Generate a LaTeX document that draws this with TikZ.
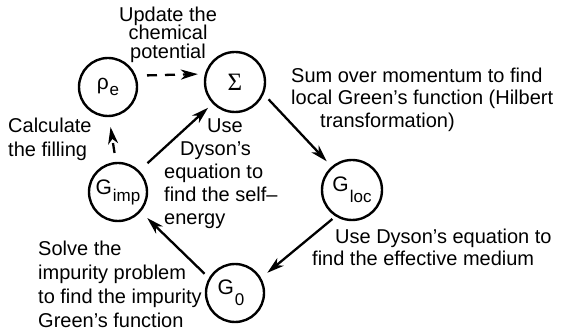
\documentclass[tikz,border=0pt]{standalone}
\usepackage{fontspec}
\setmainfont{Liberation Sans}
\newfontfamily\serifgreek{Liberation Serif}
\usetikzlibrary{arrows.meta}
\newcommand\txtfont[1]{\fontsize{20}{#1}\selectfont\lineskiplimit=-100pt\relax}
\newcommand\lowsub[2]{\kern1pt\raisebox{-#1}{\fontsize{17}{17}\selectfont #2}}
\tikzset{
  stnode/.style={circle, draw, line width=2.4pt, minimum size=58pt, inner sep=0pt, font=\fontsize{21}{21}\selectfont},
  flow/.style={line width=2.3pt, -{Stealth[length=17pt,width=10pt,inset=5pt]}},
  dflow/.style={flow, dash pattern=on 10pt off 8pt},
  lbl/.style={inner sep=0pt}
}
\begin{document}
\begin{tikzpicture}[x=1pt,y=-1pt]
\useasboundingbox (0,0) rectangle (562,336);
% states
\node[stnode] (rho) at (108,87) {ρ\lowsub{6pt}{e}};
\node[stnode, minimum size=60pt] (sigma) at (235,82) {\serifgreek\fontsize{25}{25}\selectfont Σ};
\node[stnode] (gimp) at (118,192) {G\lowsub{7pt}{imp}};
\node[stnode, minimum size=60pt] (gloc) at (352,190) {G\lowsub{11pt}{loc}};
\node[stnode] (gzero) at (235,293) {G\lowsub{11pt}{0}\kern8pt};
% connectors
\draw[dflow, shorten <=11pt, shorten >=7pt] (rho.22) -- (sigma.165);
\draw[dflow, shorten <=9pt, shorten >=10pt] (gimp.94) -- (rho.-88);
\draw[flow, shorten <=11pt, shorten >=6pt] (gimp.45) -- (sigma.224);
\draw[flow, shorten <=7pt, shorten >=7pt] (sigma.-23) -- (gloc.131);
\draw[flow, shorten <=4pt, shorten >=8pt] (gloc.238) -- (gzero.30);
\draw[flow, shorten <=6pt, shorten >=9pt] (gzero.150) -- (gimp.-41);
% labels
\node[lbl, align=center, anchor=north, font=\txtfont{18.5}] (tupd) at (168,6.5) {Update the\\chemical\\potential};
\node[lbl, align=left, anchor=north west, font=\txtfont{24}] (tcalc) at (8,117.7) {Calculate\\the filling};
\node[lbl, align=left, anchor=north west, font=\txtfont{23}] (tdys) at (164,118.7) {\hspace*{43pt}Use\\\hspace*{16pt}Dyson’s\\equation to\\find the self–\\energy};
\node[lbl, align=left, anchor=north west, font=\txtfont{22.5}] (tsum) at (291,67.7) {Sum over momentum to find\\local Green’s function (Hilbert\\\hspace*{29pt}transformation)};
\node[lbl, align=left, anchor=north west, font=\txtfont{22}] (teff) at (312,228.7) {\hspace*{23pt}Use Dyson’s equation to\\find the effective medium};
\node[lbl, align=left, anchor=north west, font=\txtfont{24}] (tsolve) at (38,240.7) {Solve the\\impurity problem\\to find the impurity\\Green’s function};
\end{tikzpicture}
\end{document}
